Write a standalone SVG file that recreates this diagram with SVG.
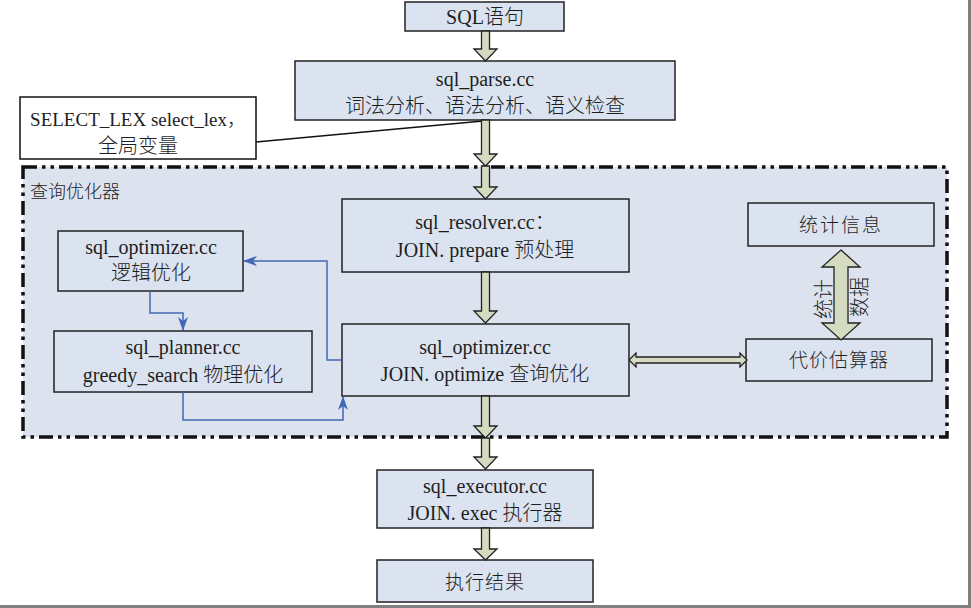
<svg xmlns="http://www.w3.org/2000/svg" width="971" height="608" viewBox="0 0 971 608">
<defs>
<style>
.box{fill:#dae3ef;stroke:#222;stroke-width:1.5}
.wbox{fill:#fff;stroke:#111;stroke-width:1.5}
.t{font-family:"Liberation Serif","Noto Sans CJK SC",serif;font-size:19px;font-weight:300;fill:#1e1e1e;text-anchor:middle;dominant-baseline:central}
.fat{fill:#d5dbc1;stroke:#222;stroke-width:1.3;stroke-linejoin:miter}
.blue{fill:none;stroke:#4068b4;stroke-width:1.5}
</style>
<marker id="ba" viewBox="0 0 14 10" markerWidth="14" markerHeight="10" refX="13" refY="5" orient="auto" markerUnits="userSpaceOnUse">
<path d="M0,0 L14,5 L0,10 L4,5 z" fill="#4068b4"/>
</marker>
</defs>
<rect x="0" y="0" width="971" height="608" fill="#fff"/>
<rect x="968" y="0" width="3" height="608" fill="#808080"/>
<rect x="0" y="605" width="971" height="3" fill="#808080"/>

<g id="optimizer-region">
<rect x="23" y="167" width="924" height="270" fill="#dce3ef" stroke="#111" stroke-width="3.5" stroke-dasharray="14 5 3.5 5 3.5 5"/>
<text x="30" y="192" class="t" style="text-anchor:start;font-size:18px">查询优化器</text>
</g>

<g id="sql-stmt">
<rect x="405" y="2" width="159" height="29" class="box"/>
<text x="485" y="17" class="t" style="font-size:20px">SQL语句</text>
</g>
<g id="sql-parse">
<rect x="295" y="61" width="380" height="59" class="box"/>
<text x="485" y="79" class="t" style="font-size:20px">sql_parse.cc</text>
<text x="485" y="106" class="t" style="font-size:20px">词法分析、语法分析、语义检查</text>
</g>
<g id="select-lex">
<rect x="20" y="97" width="236" height="62" class="wbox"/>
<text x="138" y="119" class="t">SELECT_LEX select_lex，</text>
<text x="138" y="146" class="t" style="font-size:20px">全局变量</text>
</g>
<g id="sql-resolver">
<rect x="342" y="199" width="287" height="73" class="box"/>
<text x="485" y="222" class="t" style="font-size:20px">sql_resolver.cc：</text>
<text x="485" y="250" class="t" style="font-size:20px">JOIN. prepare 预处理</text>
</g>
<g id="sql-optimizer-main">
<rect x="342" y="324" width="287" height="72" class="box"/>
<text x="485" y="347" class="t" style="font-size:20px">sql_optimizer.cc</text>
<text x="485" y="374" class="t" style="font-size:20px">JOIN. optimize 查询优化</text>
</g>
<g id="sql-optimizer-logic">
<rect x="58" y="231" width="185" height="60" class="box"/>
<text x="151" y="247" class="t" style="font-size:20px">sql_optimizer.cc</text>
<text x="151" y="273" class="t" style="font-size:20px">逻辑优化</text>
</g>
<g id="sql-planner">
<rect x="54" y="331" width="258" height="61" class="box"/>
<text x="183" y="347" class="t" style="font-size:20px">sql_planner.cc</text>
<text x="183" y="375" class="t" style="font-size:20px">greedy_search 物理优化</text>
</g>
<g id="stats-info">
<rect x="748" y="203" width="186" height="43" class="box"/>
<text x="841" y="225" class="t" style="letter-spacing:2px">统计信息</text>
</g>
<g id="cost-estimator">
<rect x="746" y="339" width="186" height="42" class="box"/>
<text x="839" y="360" class="t" style="letter-spacing:1px">代价估算器</text>
</g>
<g id="sql-executor">
<rect x="377" y="470" width="216" height="58" class="box"/>
<text x="485" y="486" class="t" style="font-size:20px">sql_executor.cc</text>
<text x="485" y="513" class="t" style="font-size:20px">JOIN. exec 执行器</text>
</g>
<g id="exec-result">
<rect x="377" y="560" width="216" height="42" class="box"/>
<text x="485" y="582" class="t" style="letter-spacing:1px">执行结果</text>
</g>

<g id="connectors">
<line x1="256" y1="142" x2="483" y2="121" stroke="#111" stroke-width="1.5"/>
<polygon class="fat" points="481.5,31 489.5,31 489.5,49 497,49 485.5,61 474,49 481.5,49"/>
<polygon class="fat" points="481.5,120 489.5,120 489.5,154 497,154 485.5,166 474,154 481.5,154"/>
<polygon class="fat" points="481.5,166 489.5,166 489.5,187 497,187 485.5,199 474,187 481.5,187"/>
<polygon class="fat" points="481.5,272 489.5,272 489.5,311 497,311 485.5,323 474,311 481.5,311"/>
<polygon class="fat" points="481.5,396 489.5,396 489.5,426 497,426 485.5,438 474,426 481.5,426"/>
<polygon class="fat" points="481.5,438 489.5,438 489.5,457 497,457 485.5,469 474,457 481.5,457"/>
<polygon class="fat" points="481.5,528 489.5,528 489.5,549 497,549 485.5,560 474,549 481.5,549"/>
<polygon class="fat" points="629,360 636,353 636,357 740,357 740,353 747,360 740,367 740,363 636,363 636,367"/>
<polygon class="fat" points="841,250 860,267 848,267 848,323 860,323 841,340 822,323 834,323 834,267 822,267"/>
<text class="t" transform="translate(824,299) rotate(-90)" style="font-size:20px">统计</text>
<text class="t" transform="translate(860,297) rotate(-90)" style="font-size:20px">数据</text>
<path class="blue" d="M342,360 H327 V261 H244" marker-end="url(#ba)"/>
<path class="blue" d="M150,291 V313 H183 V330" marker-end="url(#ba)"/>
<path class="blue" d="M183,392 V420 H343 V397" marker-end="url(#ba)"/>
</g>
</svg>
